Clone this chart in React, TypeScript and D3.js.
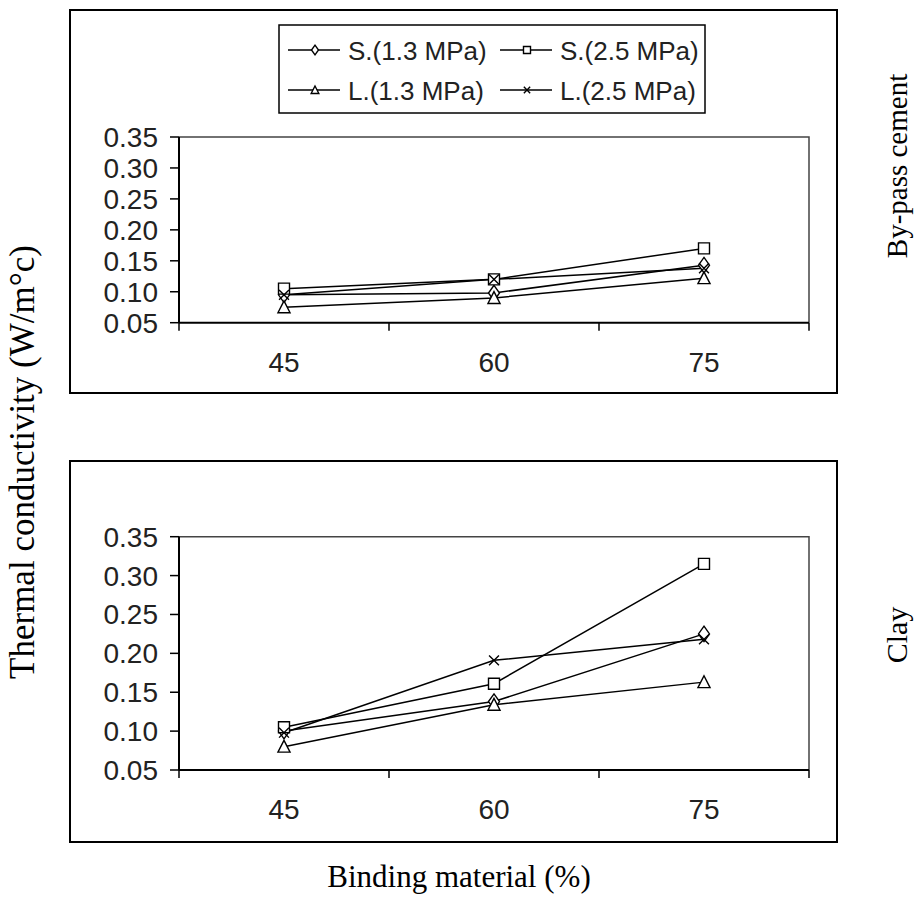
import React from "react";
import * as d3 from "d3";

const categories = ["45", "60", "75"];
const yTicks = [0.05, 0.1, 0.15, 0.2, 0.25, 0.3, 0.35];
const seriesNames = ["S.(1.3 MPa)", "S.(2.5 MPa)", "L.(1.3 MPa)", "L.(2.5 MPa)"];
const markerKinds = ["diamond", "square", "triangle", "x"];

// By-pass cement (top panel)
const bypassS13 = [0.095, 0.098, 0.143];
const bypassS25 = [0.105, 0.12, 0.17];
const bypassL13 = [0.075, 0.09, 0.122];
const bypassL25 = [0.095, 0.12, 0.138];

// Clay (bottom panel)
const clayS13 = [0.1, 0.138, 0.225];
const clayS25 = [0.105, 0.161, 0.315];
const clayL13 = [0.08, 0.134, 0.163];
const clayL25 = [0.098, 0.191, 0.218];

const panelLabels = ["By-pass cement", "Clay"];
const yTitle = "Thermal conductivity (W/m°c)";
const xTitle = "Binding material (%)";

const SANS = "'Liberation Sans', Arial, sans-serif";
const SERIF = "'Liberation Serif', 'Times New Roman', serif";

function markerPath(kind: string, s: number) {
  if (kind === "diamond") return `M0,${-1.4 * s}L${s},0L0,${1.4 * s}L${-s},0Z`;
  if (kind === "square") return `M${-s},${-s}H${s}V${s}H${-s}Z`;
  if (kind === "triangle") return `M0,${-1.15 * s}L${1.1 * s},${s}L${-1.1 * s},${s}Z`;
  return `M${-0.9 * s},${-0.9 * s}L${0.9 * s},${0.9 * s}M${-0.9 * s},${0.9 * s}L${0.9 * s},${-0.9 * s}`;
}

function Marker({ kind, x, y, s }: { kind: string; x: number; y: number; s: number }) {
  return (
    <path
      d={markerPath(kind, s)}
      transform={`translate(${x},${y})`}
      fill={kind === "x" ? "none" : "white"}
      stroke="#000"
      strokeWidth={1.4}
    />
  );
}

function Panel({
  box,
  plotTop,
  plotBottom,
  data,
  legend,
}: {
  box: [number, number, number, number];
  plotTop: number;
  plotBottom: number;
  data: number[][];
  legend: boolean;
}) {
  const x = d3.scaleBand().domain(categories).range([179, 809]);
  const y = d3.scaleLinear().domain([0.05, 0.35]).range([plotBottom, plotTop]);
  const line = d3
    .line<number>()
    .x((_, i) => (x(categories[i]) as number) + x.bandwidth() / 2)
    .y((d) => y(d));
  const boundaries = [...categories.map((c) => x(c) as number), x.range()[1]];
  const [bx0, by0, bx1, by1] = box;
  return (
    <g>
      <rect x={bx0} y={by0} width={bx1 - bx0} height={by1 - by0} fill="white" stroke="#000" strokeWidth={2} />
      <path d={`M179,${plotTop}H809V${plotBottom}`} fill="none" stroke="#444" strokeWidth={1.5} />
      <line x1={179} x2={179} y1={plotTop} y2={plotBottom} stroke="#000" strokeWidth={2} />
      <line x1={179} x2={809} y1={plotBottom} y2={plotBottom} stroke="#000" strokeWidth={2} />
      {yTicks.map((t) => (
        <g key={t}>
          <line x1={170} x2={179} y1={y(t)} y2={y(t)} stroke="#000" strokeWidth={1.5} />
          <text x={158} y={y(t) + 10} textAnchor="end" fontFamily={SANS} fontSize={28} fill="#222">
            {t.toFixed(2)}
          </text>
        </g>
      ))}
      {boundaries.map((b, i) => (
        <line key={i} x1={b} x2={b} y1={plotBottom} y2={plotBottom + 8} stroke="#000" strokeWidth={1.5} />
      ))}
      {categories.map((c) => (
        <text
          key={c}
          x={(x(c) as number) + x.bandwidth() / 2}
          y={plotBottom + 49}
          textAnchor="middle"
          fontFamily={SANS}
          fontSize={28}
          fill="#222"
        >
          {c}
        </text>
      ))}
      {data.map((vals, si) => (
        <path key={si} d={line(vals) as string} fill="none" stroke="#000" strokeWidth={1.5} />
      ))}
      {data.map((vals, si) =>
        vals.map((v, i) => (
          <Marker
            key={`${si}-${i}`}
            kind={markerKinds[si]}
            x={(x(categories[i]) as number) + x.bandwidth() / 2}
            y={y(v)}
            s={5.5}
          />
        ))
      )}
      {legend && (
        <g>
          <rect x={279} y={25} width={426} height={88} fill="white" stroke="#000" strokeWidth={1.5} />
          {seriesNames.map((name, i) => {
            const col = i % 2;
            const row = Math.floor(i / 2);
            const lx = col === 0 ? 288 : 500;
            const cy = row === 0 ? 50 : 90;
            return (
              <g key={name}>
                <line x1={lx} x2={lx + 52} y1={cy} y2={cy} stroke="#000" strokeWidth={1.5} />
                <Marker kind={markerKinds[i]} x={lx + 27} y={cy} s={3.5} />
                <text x={lx + 60} y={cy + 10} fontFamily={SANS} fontSize={26} fill="#222">
                  {name}
                </text>
              </g>
            );
          })}
        </g>
      )}
    </g>
  );
}

export default function App() {
  return (
    <svg width={919} height={911} style={{ position: "absolute", left: 0, top: 0, background: "white" }}>
      <rect x={0} y={0} width={919} height={911} fill="white" />
      <Panel
        box={[70, 10, 837, 393]}
        plotTop={137}
        plotBottom={322.7}
        data={[bypassS13, bypassS25, bypassL13, bypassL25]}
        legend={true}
      />
      <Panel
        box={[70, 461, 837, 842]}
        plotTop={536.7}
        plotBottom={770}
        data={[clayS13, clayS25, clayL13, clayL25]}
        legend={false}
      />
      <text transform="translate(34,462) rotate(-90)" textAnchor="middle" fontFamily={SERIF} fontSize={35} fill="#000">
        {yTitle}
      </text>
      <text transform="translate(907,166) rotate(-90)" textAnchor="middle" fontFamily={SERIF} fontSize={29} fill="#000">
        {panelLabels[0]}
      </text>
      <text transform="translate(907,635) rotate(-90)" textAnchor="middle" fontFamily={SERIF} fontSize={30} fill="#000">
        {panelLabels[1]}
      </text>
      <text x={459} y={887} textAnchor="middle" fontFamily={SERIF} fontSize={31} fill="#000">
        {xTitle}
      </text>
    </svg>
  );
}
